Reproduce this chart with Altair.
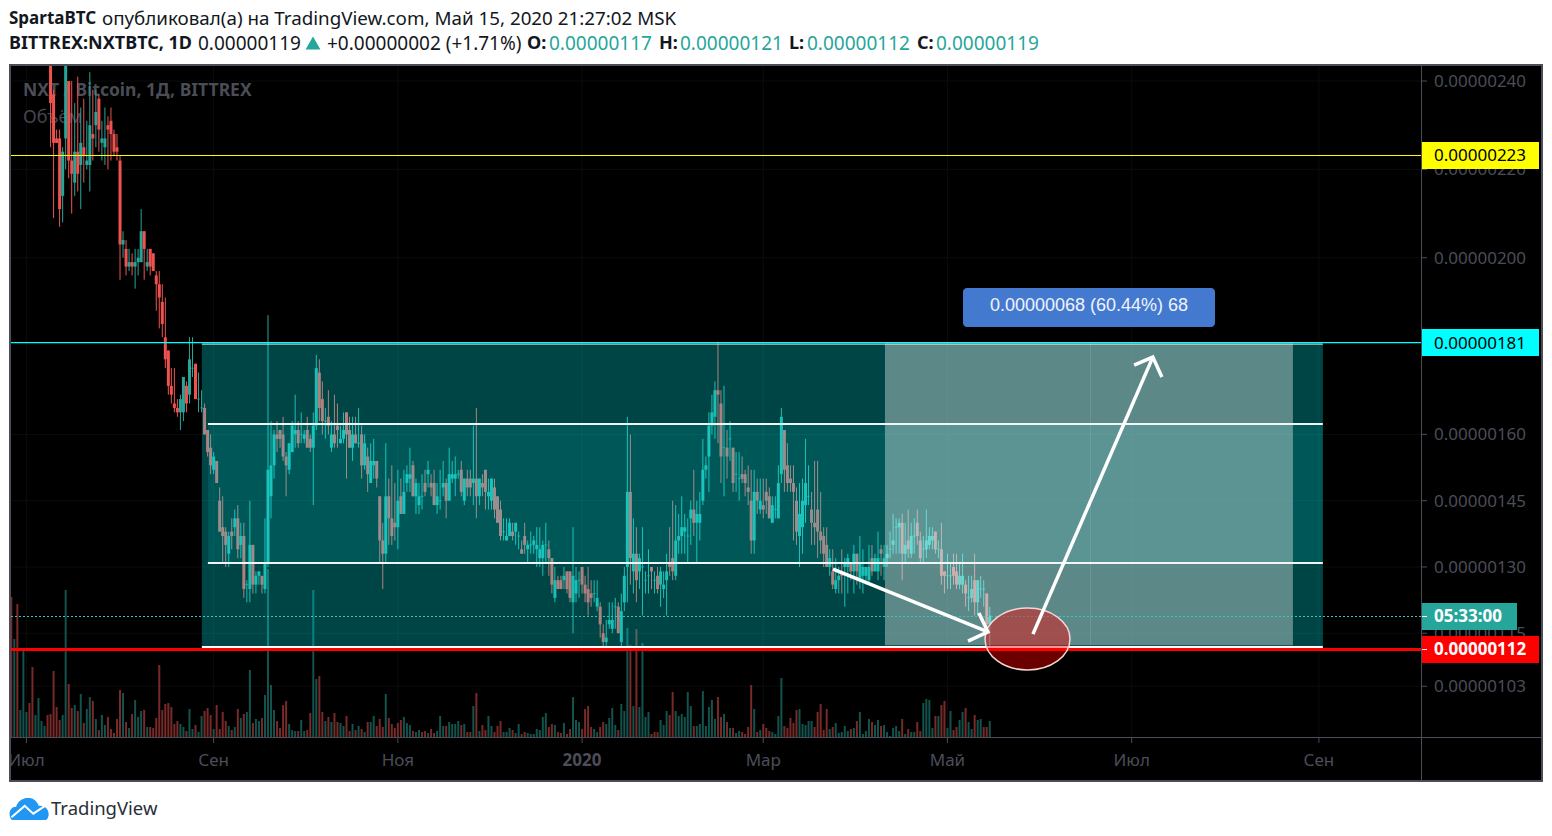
import altair as alt
import pandas as pd

FONT = "Noto Sans"
INK = "#131722"
UP = "#26a69a"
DOWN = "#ef5350"
GREY = "#4b4d58"

# Daily candles in satoshi: (open, high, low, close)
CANDLES_JUL = [
    (250,255,225,235),(237,238,209,226),(227,229,226,226),(227,229,207,211),(214,225,208,224),
    (227,250,220,244),(240,240,218,222),(222,240,210,219),(217,235,214,224),(224,241,215,219),
    (221,234,211,226),(225,236,217,223),(221,231,220,222),(221,242,215,230),(228,238,222,227),
    (230,238,225,233),(236,237,224,229),(226,231,222,227),(225,234,221,227),(230,232,220,229),
    (231,234,222,228),(228,229,223,224),(225,228,222,224),
]
CANDLES_AUG = [
    (222,223,195,203),(203,206,200,204),(202,204,196,198),(198,202,197,199),(199,201,196,198),
    (198,202,193,199),(199,202,196,200),(199,211,199,206),(206,206,195,202),(198,202,197,199),
    (202,202,196,198),(201,201,197,197),(196,197,188,194),(194,197,184,191),(190,194,182,185),
    (182,191,175,177),(179,179,169,171),(171,175,167,169),(167,175,165,166),(166,168,164,165),
    (165,169,161,168),(165,173,163,173),(171,172,165,167),(169,182,167,177),(175,182,173,175),
    (176,176,168,168),(168,174,165,168),(166,170,165,166),
]
CANDLES_SEP = [
    (166,167,160,160),(161,161,155,156),(157,160,151,153),(152,156,151,155),(154,154,149,149),
    (145,148,138,138),(139,146,131,137),(138,139,130,135),(133,138,130,137),(138,141,134,137),
    (139,143,137,141),(141,144,132,134),(135,140,132,137),(137,140,123,125),(126,127,122,126),
    (125,145,122,135),(135,135,124,126),(126,129,124,128),(128,129,126,129),(128,128,124,126),
    (125,141,124,131),(131,187,130,152),(146,163,141,153),(153,161,150,160),(160,163,156,159),
    (161,161,157,159),(160,164,154,155),(155,156,146,153),(152,158,151,158),(156,163,156,162),
    (160,169,157,161),(161,163,157,158),(160,165,158,160),(159,161,158,160),(161,164,157,157),
    (159,160,156,157),(157,165,144,162),(162,178,161,175),(174,177,163,166),(168,172,160,163),
]
CANDLES_OCT = [
    (163,166,159,163),(164,170,160,162),(157,163,156,160),(160,169,157,158),(162,167,157,161),
    (158,162,158,159),(159,165,158,161),(165,165,150,160),(161,164,157,157),(157,164,154,160),
    (160,164,158,158),(158,166,157,158),(160,162,150,153),(153,160,152,158),(155,157,147,151),
    (149,158,149,154),(153,159,150,154),(154,154,148,150),(146,146,131,136),(136,140,125,133),
    (133,158,131,146),(146,150,135,141),(141,153,135,137),(140,149,136,139),(139,152,134,145),
    (146,150,142,142),(142,152,142,147),(149,153,147,151),(150,157,147,151),(153,154,146,146),
]
CANDLES_NOV = [
    (146,150,142,149),(144,149,142,146),(146,151,143,146),(149,152,146,147),(151,154,148,152),
    (149,151,146,148),(149,152,144,144),(144,149,142,146),(145,152,143,145),(148,154,146,149),
    (149,150,141,145),(145,157,145,151),(150,154,149,151),(150,155,146,151),(151,152,150,151),
    (152,154,146,147),(145,150,144,150),(150,152,146,148),(150,152,146,148),(149,162,144,150),
    (150,166,141,146),(146,150,144,150),(149,151,146,148),(152,152,143,147),(146,150,143,147),
    (145,150,143,150),(148,150,141,143),(146,146,140,140),(143,145,136,137),(138,141,136,138),
]
CANDLES_DEC = [
    (136,141,136,137),(137,141,137,140),(138,140,136,137),(138,140,135,140),(137,138,134,137),
    (134,136,133,133),(137,140,133,135),(134,136,131,135),(135,138,133,135),(135,137,133,136),
    (134,139,130,135),(132,139,130,134),(132,136,128,135),(135,140,131,135),(134,136,128,132),
    (132,132,124,126),(123,130,122,127),(127,128,125,125),(127,128,125,125),(127,130,125,128),
    (129,129,124,125),(129,129,122,123),(122,139,115,128),(124,130,122,127),(127,129,123,127),
    (130,130,124,126),(126,128,122,124),(125,130,119,122),(124,127,121,123),(124,127,122,124),
    (121,127,120,123),
]
CANDLES_JAN = [
    (121,122,114,117),(115,117,112,113),(113,118,112,114),(117,122,116,118),(116,122,115,118),
    (121,123,116,121),(121,122,115,115),(113,124,111,120),(122,130,120,128),(130,164,122,147),
    (147,160,126,132),(129,141,124,133),(133,139,122,127),(129,133,125,132),(130,139,119,130),
    (127,129,124,127),(128,134,124,128),(130,130,125,129),(127,129,124,127),(128,130,124,125),
    (126,130,121,129),(125,129,123,126),(127,133,119,129),(131,139,128,130),(132,145,127,129),
    (128,144,127,136),(136,142,133,137),(137,146,133,139),(138,142,133,139),(137,141,131,137),
    (141,145,135,143),
]
CANDLES_FEB = [
    (143,152,137,140),(140,145,131,142),(140,147,136,142),(145,159,144,152),(152,155,150,153),
    (155,165,147,162),(162,169,160,165),(164,172,159,170),(170,181,158,169),(167,170,149,155),
    (157,171,146,157),(157,161,150,155),(159,163,154,159),(157,157,147,149),(151,156,147,151),
    (150,156,145,150),(151,155,149,150),(151,152,146,149),(148,153,144,147),(145,152,133,136),
    (136,152,133,147),(147,150,142,145),(143,150,142,145),(144,150,141,143),(147,150,142,145),
    (146,148,141,141),(140,146,140,144),(143,146,141,143),(141,153,141,149),
]
CANDLES_MAR = [
    (151,166,149,164),(161,161,147,152),(153,158,147,149),(150,153,147,149),(149,153,136,147),
    (145,148,135,138),(137,149,130,142),(139,150,133,145),(144,159,140,149),(146,153,144,146),
    (143,147,135,140),(140,154,135,139),(143,154,132,138),(138,147,133,136),(137,139,130,133),
    (135,139,130,130),(130,134,128,132),(129,134,125,126),(125,132,124,127),(127,130,124,128),
    (129,134,124,128),(130,132,121,131),(130,133,124,132),(131,131,127,129),(129,135,124,133),
    (133,133,126,129),(127,137,125,131),(128,134,124,130),(128,130,126,130),(127,135,126,130),
]
CANDLES_APR = [
    (132,135,128,129),(129,133,129,132),(129,138,127,132),(134,135,128,133),(130,135,127,132),
    (132,135,130,133),(134,138,132,134),(135,142,133,136),(139,141,133,139),(139,141,133,140),(140,142,127,133),
    (133,140,131,135),(136,143,132,134),(133,140,132,137),(137,141,133,137),(140,143,135,137),
    (136,138,131,132),(134,137,131,134),(134,143,132,136),(135,139,134,137),(136,139,134,137),
    (138,138,133,134),(134,136,132,134),(134,140,126,128),(129,129,124,128),(128,133,125,128),(128,131,125,128),
    (130,133,126,128),(129,133,125,126),(126,131,125,128),(126,133,124,128),(126,127,121,124),
]
CANDLES_MAY = [
    (123,128,120,123),(123,128,122,125),(127,133,119,122),(122,127,119,127),(125,128,123,125),
    (125,127,121,125),(124,124,115,117),(117,121,112,119),
]
CANDLES = (CANDLES_JUL + CANDLES_AUG + CANDLES_SEP + CANDLES_OCT + CANDLES_NOV + CANDLES_DEC
           + CANDLES_JAN + CANDLES_FEB + CANDLES_MAR + CANDLES_APR + CANDLES_MAY)

# Volume bars: positive for an up day, negative for a down day (arbitrary units)
VOLUME_SUMMER = [
    -140,98,-133,27,86,25,-34,-70,22,39,16,11,-22,-23,-66,-30,-17,22,147,-53,-29,32,-26,43,-14,28,40,-36,
    18,-7,22,12,-20,-8,-4,-18,-47,44,-15,9,-23,37,20,26,-27,10,-10,-9,-19,-72,-27,-33,-34,-30,-13,-16,
    13,10,-6,28,8,-12,5,21,-26,-29,-22,8,-32,-8,-25,-16,11,-7,10,-28,19,-23,25,67,-14,18,16,-19,42,168,
    52,27,-16,-9,-32,-36,13,7,6,-6,
]
VOLUME_AUTUMN = [
    17,6,-7,-24,147,58,-61,-25,16,-20,15,-24,-15,14,11,-21,-6,13,-7,11,-8,5,-15,15,21,-11,-18,-10,43,-19,
    -13,-9,-14,-17,20,14,12,-6,5,7,-5,-6,4,-8,-4,6,21,11,-11,15,13,13,16,-12,13,-5,-5,31,-44,6,-12,-7,
    21,11,-5,-11,
]
VOLUME_WINTER = [
    -16,5,5,9,-7,4,13,-3,-5,4,3,3,8,7,20,24,-10,-13,12,-5,-4,14,-3,-8,40,17,15,-8,-28,-31,-10,8,5,-10,-15,
    13,19,29,12,-7,33,26,109,-92,31,-108,30,94,20,25,-3,-5,-5,17,12,26,-22,-45,26,21,23,20,45,31,-11,11,
    13,46,11,30,37,18,-40,-20,23,-15,9,-9,4,6,-5,-3,-10,-52,28,-5,7,-13,-9,-6,5,3,21,59,-11,-9,-19,-14,-27,
]
VOLUME_SPRING = [
    28,13,12,16,16,-10,-25,-33,-7,-28,8,-10,14,4,5,11,6,-8,9,-16,25,3,6,18,-15,12,17,-11,12,5,1,9,11,6,
    -18,3,-8,5,5,-15,-6,34,38,37,9,-21,21,-32,-36,9,26,-7,-10,17,25,-29,15,8,-22,17,18,-10,-10,16,
]
VOLUME = VOLUME_SUMMER + VOLUME_AUTUMN + VOLUME_WINTER + VOLUME_SPRING

# Time axis: bar number and month
X_TICKS = [5, 67, 128, 189, 249, 310, 371, 433]
X_LABELS = ["Июл", "Сен", "Ноя", "2020", "Мар", "Май", "Июл", "Сен"]
# Price axis
Y_TICKS = [240, 220, 200, 160, 145, 130, 115, 103]

PRICE_TOP = 223.14
RANGE_LINE = 180.79
RANGE_TOP = 180.58
RANGE_EDGE = 180.45
RANGE_UP = 162.36
RANGE_LOW = 130.9
RANGE_FLOOR = 111.88
SUPPORT = 111.32
COUNTDOWN = 118.79

BAR_END = 466.8        # last bar of the price pane
PRICE_MIN = 91.51      # floor of the price pane, where volume stands
VOLUME_PER_PRICE = 4.418  # volume units per satoshi of pane height

# Arrow paths in (bar, price)
ARROWS = {
    "down_shaft": [(272.1, 129.5), (323.4, 115.3)],
    "down_head": [(320.4, 119.6), (323.4, 115.3), (316.8, 113.2)],
    "up_shaft": [(338.3, 114.8), (378.0, 177.5)],
    "up_head": [(371.8, 175.7), (378.0, 177.5), (381.0, 173.0)],
}

ONE = pd.DataFrame({"a": [0]})
n_vol = len(VOLUME)
start = n_vol - len(CANDLES)
candles = pd.DataFrame(CANDLES, columns=["o", "h", "l", "c"])
candles["i"] = range(start, n_vol)
candles["col"] = [UP if c >= o else DOWN for o, c in zip(candles.o, candles.c)]
dojis = candles[candles.o == candles.c]
vol = pd.DataFrame({"i": range(n_vol),
                    "base": PRICE_MIN,
                    "top": [PRICE_MIN + abs(v) / VOLUME_PER_PRICE for v in VOLUME],
                    "col": ["#13534d" if v > 0 else "#782a28" for v in VOLUME]})
x_df = pd.DataFrame({"i": X_TICKS, "lab": X_LABELS})
y_df = pd.DataFrame({"p": Y_TICKS, "lab": [f"{v / 1e8:.8f}" for v in Y_TICKS]})

# The plot area is the whole dark panel
xs = alt.Scale(domain=[-0.1, 506.87], nice=False, zero=False, padding=0)
ys = alt.Scale(domain=[81.55, 243.4], nice=False, zero=False, padding=0)
X = lambda f="i": alt.X(f"{f}:Q", scale=xs, axis=None, title=None)
Y = lambda f: alt.Y(f"{f}:Q", scale=ys, axis=None, title=None)
COL = alt.Color("col:N", scale=None)


def text(s, x, y, size=17, color=INK, weight="normal", align="left", font=FONT):
    return alt.Chart(ONE).mark_text(text=s, align=align, baseline="middle", font=font, fontSize=size,
                                    fontWeight=weight, color=color).encode(
        x=alt.value(x - 11), y=alt.value(y + 1 - 66))


def rect(x1, y1, x2, y2, fill, **kw):
    return alt.Chart(ONE).mark_rect(fill=fill, **kw).encode(
        x=alt.value(x1 - 11), x2=alt.value(x2 - 11), y=alt.value(y1 - 66), y2=alt.value(y2 - 66))


def box(x1, x2, p1, p2, fill, opacity):
    d = pd.DataFrame({"x1": [x1], "x2": [x2], "p1": [p1], "p2": [p2]})
    return alt.Chart(d).mark_rect(fill=fill, opacity=opacity, clip=True).encode(
        x=X("x1"), x2="x2:Q", y=Y("p1"), y2="p2:Q")


def level(p, color, width=1, dash=None, x1=-0.1, x2=BAR_END):
    d = pd.DataFrame({"p": [p], "x1": [x1], "x2": [x2]})
    kw = {"strokeDash": dash} if dash else {}
    return alt.Chart(d).mark_rule(color=color, strokeWidth=width, **kw).encode(
        y=Y("p"), x=X("x1"), x2="x2:Q")


# grid, ticks and tick labels
grid = [
    alt.Chart(x_df).mark_rule(color="#0c0c0e").encode(x=X(), y=alt.value(0), y2=alt.value(671)),
    alt.Chart(y_df).mark_rule(color="#0c0c0e").encode(y=Y("p"), x=alt.value(0), x2=alt.value(1410)),
]
guides = [
    alt.Chart(x_df).mark_rule(color=GREY).encode(x=X(), y=alt.value(671), y2=alt.value(677)),
    alt.Chart(y_df).mark_rule(color=GREY).encode(y=Y("p"), x=alt.value(1410), x2=alt.value(1416)),
    alt.Chart(x_df[x_df.lab != "2020"]).mark_text(font=FONT, fontSize=17, color=GREY, baseline="middle").encode(
        x=X(), y=alt.value(761 - 66), text="lab:N"),
    alt.Chart(x_df[x_df.lab == "2020"]).mark_text(font=FONT, fontSize=17, color=GREY, baseline="middle",
                                                  fontWeight="bold").encode(
        x=X(), y=alt.value(761 - 66), text="lab:N"),
    alt.Chart(y_df).mark_text(font=FONT, fontSize=17, color=GREY, baseline="middle", align="left", dy=1).encode(
        x=alt.value(1434 - 11), y=Y("p"), text="lab:N"),
]

watermark = [
    text("NXT / Bitcoin, 1Д, BITTREX", 23, 90, size=17.5, color="#4a4c56", weight="bold"),
    text("Объём", 23, 117, size=18, color="#45464f"),
]

volume = alt.Chart(vol).mark_bar(size=2, orient="vertical", clip=True).encode(
    x=X(), y=Y("top"), y2="base:Q", color=COL)
wicks = alt.Chart(candles).mark_rule(strokeWidth=1, clip=True).encode(x=X(), y=Y("l"), y2="h:Q", color=COL)
bodies = alt.Chart(candles).mark_bar(size=3, clip=True).encode(x=X(), y=Y("o"), y2="c:Q", color=COL)
flat = alt.Chart(dojis).mark_tick(orient="horizontal", size=3, thickness=1, clip=True).encode(x=X(), y=Y("c"), color=COL)

arrow_rows = [{"a": k, "n": n, "i": p[0], "p": p[1]} for k, pts in ARROWS.items() for n, p in enumerate(pts)]
arrows = alt.Chart(pd.DataFrame(arrow_rows)).mark_line(color="white", strokeWidth=3.5, strokeCap="butt").encode(
    x=X(), y=Y("p"), detail="a:N", order="n:Q")

ELLIPSE = "M-1,0A1,0.729 0 1,1 1,0A1,0.729 0 1,1 -1,0Z"
ellipse = alt.Chart(pd.DataFrame({"i": [336.5], "p": [113.7]})).mark_point(
    shape=ELLIPSE, size=7225, filled=True, fill="#ff0000", fillOpacity=0.42, stroke="#f5d5d5", strokeWidth=1.5,
    strokeOpacity=1, opacity=1).encode(x=X(), y=Y("p"))

overlay = [
    box(63.1, 434.3, RANGE_TOP, RANGE_FLOOR, "#00ffff", 0.27),
    box(65.1, 434.3, RANGE_UP, RANGE_LOW, "#00ffff", 0.10),
    box(289.3, 424.4, RANGE_TOP, 112.3, "#ffffff", 0.36),
    box(357.2, 357.5, RANGE_TOP, 112.3, "#ffffff", 0.12),
    level(PRICE_TOP, "#ffff00"),
    level(RANGE_EDGE, "#e6f2f2", x1=63.1, x2=434.3),
    level(RANGE_LINE, "#00ffff", width=1.3),
    level(RANGE_UP, "#eef6f6", width=2, x1=65.1, x2=434.3),
    level(RANGE_LOW, "#eef6f6", width=2, x1=65.1, x2=434.3),
    level(RANGE_FLOOR, "#ffffff", width=2, x1=63.1, x2=434.3),
    level(COUNTDOWN, "#34c9c4", dash=[2, 2]),
    level(SUPPORT, "#ff0000", width=3),
    ellipse,
    arrows,
]

tags = [
    rect(1421, 142, 1539, 169, "#ffff00"), text("0.00000223", 1434, 155, color="black"),
    rect(1421, 329, 1539, 356, "#00ffff"), text("0.00000181", 1434, 343, color="black"),
    rect(1421, 603, 1517, 630, UP), text("05:33:00", 1434, 616, color="white", weight="bold"),
    rect(1422, 616, 1427, 617, "white"),
    rect(1421, 636, 1539, 663, "#ff0000"), text("0.00000112", 1434, 649, color="white", weight="bold"),
    rect(1422, 649, 1427, 650, "white"),
    rect(963, 288, 1215, 327, "#4479d0", cornerRadius=4),
    text("0.00000068 (60.44%) 68", 1089, 305, size=18, color="#f0f4fb", align="center", font="Liberation Sans"),
]

frame_lines = [
    rect(1421, 66, 1422, 781, GREY),
    rect(11, 737, 1542, 738, GREY),
    alt.Chart(ONE).mark_rect(fillOpacity=0, stroke=GREY, strokeWidth=2).encode(
        x=alt.value(10 - 11), x2=alt.value(1542 - 11), y=alt.value(65 - 66), y2=alt.value(781 - 66)),
]

header = [
    text("SpartaBTC", 9, 18, size=17, weight="bold"),
    text("опубликовал(а) на TradingView.com, Май 15, 2020 21:27:02 MSK", 102, 18, size=18.8),
    text("BITTREX:NXTBTC, 1D", 9, 43, size=18, weight="bold"),
    text("0.00000119", 198, 43, size=19),
    alt.Chart(ONE).mark_point(shape="triangle-up", filled=True, color=UP, size=220, opacity=1).encode(
        x=alt.value(313 - 11), y=alt.value(43 - 66)),
    text("+0.00000002 (+1.71%)", 327, 43, size=19),
    text("O:", 527, 43, size=18, weight="bold"),
    text("0.00000117", 549, 43, size=19, color=UP),
    text("H:", 659, 43, size=18, weight="bold"),
    text("0.00000121", 680, 43, size=19, color=UP),
    text("L:", 789, 43, size=18, weight="bold"),
    text("0.00000112", 807, 43, size=19, color=UP),
    text("C:", 917, 43, size=18, weight="bold"),
    text("0.00000119", 936, 43, size=19, color=UP),
]

CLOUD = ("M-0.88,0.56C-1.1,0.32 -1,-0.12 -0.66,-0.12C-0.55,-0.48 -0.2,-0.6 0,-0.56"
         "C0.28,-0.55 0.44,-0.32 0.5,-0.16C0.85,-0.2 1.05,0.08 1,0.34C0.97,0.5 0.9,0.56 0.85,0.56Z")
LINE = "M-0.9,0.42L-0.22,-0.16L0.22,0.24L0.92,-0.22"
logo = [
    alt.Chart(ONE).mark_point(shape=CLOUD, size=1521, filled=True, color="#2196f3", opacity=1).encode(
        x=alt.value(29 - 11), y=alt.value(809 - 66)),
    alt.Chart(ONE).mark_point(shape=LINE, size=1521, filled=False, color="white", strokeWidth=2, opacity=1).encode(
        x=alt.value(29 - 11), y=alt.value(809 - 66)),
    text("TradingView", 51, 808, size=18.5, color="#2a2e39"),
]

chart = alt.layer(*(grid + watermark + [volume, wicks, bodies, flat] + guides + overlay + tags + frame_lines
                    + header + logo)).properties(
    width=1531, height=715,
    padding={"left": 3, "top": 58, "right": 2, "bottom": 41},
    autosize=alt.AutoSizeParams(type="none"),
    background="white",
).configure_view(fill="black", strokeWidth=0)

chart.save("out.html", embed_options={"renderer": "svg", "actions": False})
